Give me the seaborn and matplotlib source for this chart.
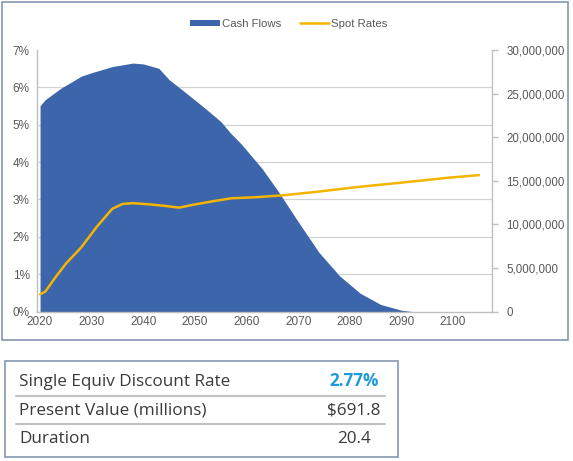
import numpy as np
import pandas as pd
import matplotlib
matplotlib.use("Agg")
import matplotlib.pyplot as plt
import seaborn as sns
from matplotlib.patches import Rectangle, Patch
from matplotlib.lines import Line2D
from matplotlib.ticker import FuncFormatter

# data
cash_years = [2020, 2021, 2024, 2028, 2030, 2034, 2038, 2040, 2043, 2045, 2048, 2052,
              2055, 2057, 2059, 2063, 2066, 2070, 2074, 2078, 2082, 2086, 2090, 2092]
cash_flows = [23.6, 24.3, 25.6, 27.0, 27.4, 28.1, 28.5, 28.4, 27.9, 26.6, 25.2, 23.3,
              21.8, 20.4, 19.2, 16.4, 13.9, 10.3, 6.8, 4.1, 2.1, 0.8, 0.15, 0.0]  # millions

spot_years = [2020, 2021, 2023, 2025, 2028, 2031, 2034, 2036, 2038, 2041, 2044, 2047,
              2049, 2053, 2057, 2062, 2067, 2074, 2082, 2090, 2099, 2105]
spot_rates = [0.46, 0.53, 0.92, 1.28, 1.72, 2.27, 2.75, 2.88, 2.90, 2.87, 2.83, 2.78,
              2.84, 2.94, 3.03, 3.06, 3.11, 3.21, 3.34, 3.45, 3.58, 3.65]  # percent

table_labels = ["Single Equiv Discount Rate", "Present Value (millions)", "Duration"]
table_values = ["2.77%", "$691.8", "20.4"]

cash_df = pd.DataFrame({"year": cash_years, "cash": [v * 1e6 for v in cash_flows]})
spot_df = pd.DataFrame({"year": spot_years, "rate": spot_rates})

sns.set_style("white")
plt.rcParams["font.family"] = ["Liberation Sans", "DejaVu Sans"]

blue = "#3d65ab"
gold = "#f5b400"
grey_txt = "#595959"
axis_grey = "#bfbfbf"
frame = "#8497b0"

fig = plt.figure(figsize=(5.73, 4.61), dpi=100)
W, H = 573, 461

# chart frame
fig.patches.append(Rectangle((2 / W, 1 - 340 / H), 566 / W, 338 / H, transform=fig.transFigure,
                             fill=False, edgecolor=frame, linewidth=1.2))

ax = fig.add_axes([36.7 / W, 1 - 311.5 / H, (492.3 - 36.7) / W, (311.5 - 50) / H])
ax.fill_between(cash_df["year"], cash_df["cash"], 0, color=blue, linewidth=0, zorder=2)
ax.set_xlim(2019.35, 2107.6)
ax.set_ylim(0, 30e6)

ax2 = ax.twinx()
sns.lineplot(data=spot_df, x="year", y="rate", ax=ax2, color=gold, linewidth=1.8, legend=False)

# cash axis on the right
ax.yaxis.tick_right()
ax.yaxis.set_label_position("right")
ax.set_yticks(np.arange(0, 30e6 + 1, 5e6))
ax.yaxis.set_major_formatter(FuncFormatter(lambda v, p: f"{int(v):,}"))
ax.set_yticks(np.linspace(0, 30e6, 8), minor=True)
ax.grid(which="minor", axis="y", color="#d3d3d3", linewidth=0.9, zorder=0)
ax.grid(which="major", axis="y", visible=False)
ax.tick_params(axis="y", which="minor", length=0)
ax.tick_params(axis="y", which="major", length=4, color=axis_grey, width=1,
               labelsize=8.3, labelcolor=grey_txt, pad=6)
ax.set_xticks(range(2020, 2101, 10))
ax.tick_params(axis="x", length=0, labelsize=8.5, labelcolor=grey_txt, pad=3)
for s in ["left", "right", "bottom"]:
    ax.spines[s].set_color(axis_grey)
    ax.spines[s].set_linewidth(1)
ax.spines["top"].set_visible(False)
ax.set_xlabel("")
ax.set_ylabel("")

# percent axis on the left
ax2.yaxis.tick_left()
ax2.yaxis.set_label_position("left")
ax2.set_ylim(0, 7)
ax2.set_yticks(range(0, 8))
ax2.yaxis.set_major_formatter(FuncFormatter(lambda v, p: f"{int(v)}%"))
ax2.tick_params(axis="y", length=0, labelsize=8.5, labelcolor=grey_txt, pad=5)
for s in ax2.spines.values():
    s.set_visible(False)
ax2.set_xlabel("")
ax2.set_ylabel("")
ax2.set_xlim(2019.35, 2107.6)

handles = [Patch(facecolor=blue, edgecolor="none"), Line2D([], [], color=gold, linewidth=1.8)]
fig.legend(handles, ["Cash Flows", "Spot Rates"], loc="center", bbox_to_anchor=(289 / W, 1 - 24 / H),
           ncol=2, frameon=False, fontsize=8.2, labelcolor=grey_txt, handlelength=2.6,
           handleheight=0.55, handletextpad=0.2, columnspacing=1.6)

# summary table
fig.patches.append(Rectangle((5 / W, 1 - 456.5 / H), 393 / W, 96 / H, transform=fig.transFigure,
                             fill=False, edgecolor=frame, linewidth=1.2))
row_y = [381.5, 410, 438.5]
for i, (lab, val) in enumerate(zip(table_labels, table_values)):
    y = 1 - row_y[i] / H
    fig.text(19 / W, y, lab, ha="left", va="center", fontsize=12.3, color="#3a3a3a",
             family=["Open Sans", "DejaVu Sans"])
    fig.text(354 / W, y, val, ha="center", va="center", fontsize=12.3,
             color="#1e9bd7" if i == 0 else "#3a3a3a",
             fontweight="bold" if i == 0 else "normal", family=["Open Sans", "DejaVu Sans"])
for ly in [395.5, 424]:
    fig.add_artist(Line2D([16 / W, 385 / W], [1 - ly / H, 1 - ly / H], transform=fig.transFigure,
                          color="#c0c0c0", linewidth=1.5))

fig.savefig("out.png", dpi=100, facecolor="white")
